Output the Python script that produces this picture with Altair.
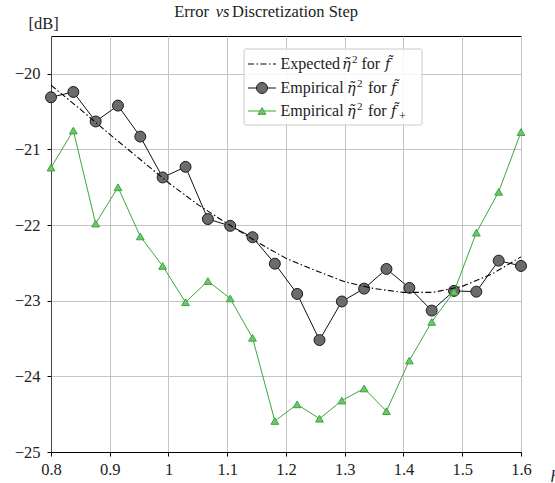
import altair as alt
import pandas as pd

# ---------------- data ----------------
steps = [0.800, 0.838, 0.876, 0.914, 0.952, 0.990, 1.029, 1.067, 1.105, 1.143, 1.181,
         1.219, 1.257, 1.295, 1.333, 1.371, 1.410, 1.448, 1.486, 1.524, 1.562, 1.600]
emp_f = [-20.31, -20.24, -20.63, -20.42, -20.83, -21.37, -21.23, -21.92, -22.01, -22.16, -22.51,
         -22.91, -23.52, -23.01, -22.84, -22.58, -22.83, -23.13, -22.87, -22.88, -22.47, -22.54]
emp_fplus = [-21.24, -20.75, -21.98, -21.50, -22.15, -22.54, -23.02, -22.74, -22.97, -23.49, -24.59,
             -24.37, -24.56, -24.32, -24.16, -24.46, -23.79, -23.28, -22.88, -22.10, -21.56, -20.77]
exp_steps = [0.80, 0.85, 0.90, 0.95, 1.00, 1.05, 1.10, 1.15, 1.20, 1.25, 1.30, 1.35, 1.40,
             1.45, 1.50, 1.55, 1.60]
exp_f = [-20.15, -20.47, -20.80, -21.12, -21.44, -21.73, -21.98, -22.22, -22.44, -22.60, -22.75,
         -22.84, -22.89, -22.89, -22.81, -22.65, -22.42]

x_ticks = [0.8, 0.9, 1.0, 1.1, 1.2, 1.3, 1.4, 1.5, 1.6]
y_ticks = [-25, -24, -23, -22, -21, -20]

title_parts = ["Error", "vs", "Discretization Step"]
leg_first = ["Expected", "Empirical", "Empirical"]
leg_eta = "\u03b7\u0303"
leg_sq = "2"
leg_for = "for"
leg_f = ["f\u0303", "f\u0303", "f\u0303"]
leg_sub = ["", "", "+"]

FONT = "Liberation Serif"
MATH = "DejaVu Serif"
GREEN = "#3aa83a"
GREEN_FILL = "#6fc46f"
DASHDOT = [6, 2.5, 1.5, 2.5]

df_emp = pd.DataFrame({"h": steps, "f": emp_f, "fp": emp_fplus})
df_exp = pd.DataFrame({"h": exp_steps, "v": exp_f})
one = pd.DataFrame({"a": [0]})

xs = alt.Scale(domain=[0.8, 1.6], nice=False, zero=False)
ys = alt.Scale(domain=[-25, -19.5], nice=False, zero=False)

x_axis = alt.Axis(values=x_ticks, format="~g", title="h", titleFontStyle="italic",
                  titleFont=FONT, titleFontSize=17, titleFontWeight="normal",
                  titleAlign="left", titleAnchor="start", titleX=499, titleY=29,
                  titleBaseline="alphabetic", titleColor="#222",
                  labelFont=FONT, labelFontSize=16.5, labelColor="#222", labelPadding=5,
                  tickColor="black", tickSize=4, domainColor="black", gridColor="#c4c4c4",
                  grid=True, labelFlush=False)
y_axis = alt.Axis(values=y_ticks, title="[dB]", titleAngle=0, titleFont=FONT,
                  titleFontSize=16.5, titleFontWeight="normal", titleAlign="left",
                  titleAnchor="start", titleX=-23, titleY=-8, titleBaseline="alphabetic",
                  titleColor="#222",
                  labelFont=FONT, labelFontSize=16.5, labelColor="#222", labelPadding=7,
                  tickColor="black", tickSize=4, domainColor="#444", gridColor="#c4c4c4",
                  grid=True)

X = alt.X("h:Q", scale=xs, axis=x_axis)

# ---------------- data layers ----------------
black_line = alt.Chart(df_emp).mark_line(color="#111", strokeWidth=1).encode(
    x=X, y=alt.Y("f:Q", scale=ys, axis=y_axis))
black_pts = alt.Chart(df_emp).mark_point(shape="circle", filled=True, fill="#6b6b6b",
                                         stroke="#1a1a1a", strokeWidth=1, size=120,
                                         opacity=1).encode(
    x=X, y=alt.Y("f:Q", scale=ys, axis=y_axis))
green_line = alt.Chart(df_emp).mark_line(color=GREEN, strokeWidth=1).encode(
    x=X, y=alt.Y("fp:Q", scale=ys, axis=y_axis))
green_pts = alt.Chart(df_emp).mark_point(shape="triangle-up", filled=True, fill=GREEN_FILL,
                                         stroke=GREEN, strokeWidth=1, size=60,
                                         opacity=1).encode(
    x=X, y=alt.Y("fp:Q", scale=ys, axis=y_axis))
exp_line = alt.Chart(df_exp).mark_line(color="black", strokeWidth=1.1,
                                       strokeDash=DASHDOT).encode(
    x=X, y=alt.Y("v:Q", scale=ys, axis=y_axis))


def txt(s, x, y, align="left", italic=False, size=16, font=FONT):
    return alt.Chart(one).mark_text(align=align, baseline="alphabetic", font=font,
                                    fontSize=size, color="#222",
                                    fontStyle="italic" if italic else "normal").encode(
        x=alt.value(x), y=alt.value(y), text=alt.value(s))


# ---------------- title (with italic "vs") ----------------
title_layers = [
    txt(title_parts[0], 158, -19, align="right", size=16.5),
    txt(title_parts[1], 171.5, -19, align="center", italic=True, size=16.5),
    txt(title_parts[2], 181, -19, align="left", size=16.5),
]

# ---------------- legend (manual) ----------------
leg_box = alt.Chart(one).mark_rect(fill="white", fillOpacity=0.85, stroke="#cccccc",
                                   strokeWidth=1, cornerRadius=2).encode(
    x=alt.value(193), x2=alt.value(371), y=alt.value(13), y2=alt.value(89))
rows = [28, 52, 75]
leg_layers = [leg_box]
leg_layers.append(alt.Chart(one).mark_rule(color="black", strokeWidth=1.1,
                                           strokeDash=DASHDOT).encode(
    x=alt.value(197), x2=alt.value(225), y=alt.value(rows[0])))
leg_layers.append(alt.Chart(one).mark_rule(color="#111", strokeWidth=1).encode(
    x=alt.value(197), x2=alt.value(225), y=alt.value(rows[1])))
leg_layers.append(alt.Chart(one).mark_point(shape="circle", filled=True, fill="#6b6b6b",
                                            stroke="#1a1a1a", strokeWidth=1, size=120,
                                            opacity=1).encode(
    x=alt.value(211), y=alt.value(rows[1])))
leg_layers.append(alt.Chart(one).mark_rule(color=GREEN, strokeWidth=1).encode(
    x=alt.value(197), x2=alt.value(225), y=alt.value(rows[2])))
leg_layers.append(alt.Chart(one).mark_point(shape="triangle-up", filled=True, fill=GREEN_FILL,
                                            stroke=GREEN, strokeWidth=1, size=60,
                                            opacity=1).encode(
    x=alt.value(211), y=alt.value(rows[2])))
offs = [(291, 310.5, 334), (296, 317, 340), (296, 317, 340)]
for i, r in enumerate(rows):
    yb = r + 5
    leg_layers.append(txt(leg_first[i], 229.5, yb, size=16))
    leg_layers.append(txt(leg_eta, offs[i][0], yb, italic=True, size=14.5, font=MATH))
    leg_layers.append(txt(leg_sq, offs[i][0] + 10, yb - 6, size=11))
    leg_layers.append(txt(leg_for, offs[i][1], yb, size=16))
    leg_layers.append(txt(leg_f[i], offs[i][2], yb, italic=True, size=14.5, font=MATH))
    if leg_sub[i]:
        leg_layers.append(txt(leg_sub[i], offs[i][2] + 8, yb + 4, size=12))

chart = alt.layer(
    black_line, black_pts, green_line, green_pts, exp_line,
    *title_layers, *leg_layers
).properties(
    width=470, height=416,
    autosize=alt.AutoSizeParams(type="none"),
    padding={"left": 51, "top": 36, "right": 34, "bottom": 31},
    background="white",
).configure_view(
    stroke="black", strokeWidth=1
)

chart.save("out.html", embed_options={"renderer": "svg", "actions": False})
